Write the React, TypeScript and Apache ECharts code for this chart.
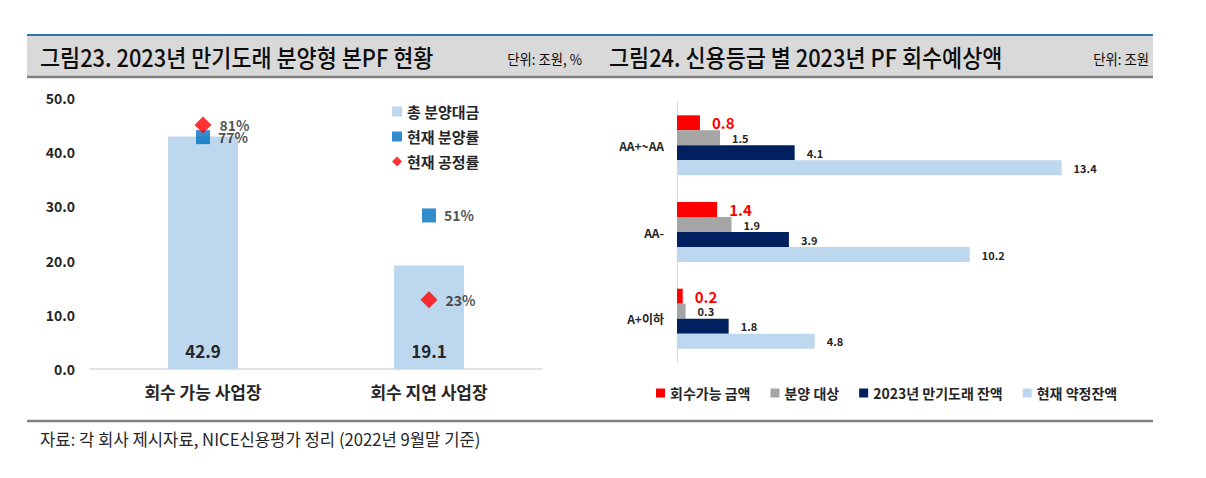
import React, { useEffect, useRef } from 'react';
import * as echarts from 'echarts';

const FONT = "'Noto Sans CJK KR', 'Noto Sans', sans-serif";
const TXT = '#262626';

// Left chart: 2023년 만기도래 분양형 본PF 현황
const leftCategories = ['회수 가능 사업장', '회수 지연 사업장'];
const totalSalesAmount = [42.9, 19.1];
const currentSalesRate = [77, 51];
const currentProgressRate = [81, 23];
const leftAxisMax = 50;
const leftAxisInterval = 10;
const rateAxisMax = 90;
const leftSeriesNames = ['총 분양대금', '현재 분양률', '현재 공정률'];

// Right chart: 신용등급 별 2023년 PF 회수예상액
const gradeCategories = ['AA+~AA', 'AA-', 'A+이하'];
const recoverableAmount = [0.8, 1.4, 0.2];
const saleTarget = [1.5, 1.9, 0.3];
const maturing2023 = [4.1, 3.9, 1.8];
const committedBalance = [13.4, 10.2, 4.8];
const rightAxisMax = 15;
const rightSeriesNames = ['회수가능 금액', '분양 대상', '2023년 만기도래 잔액', '현재 약정잔액'];
const rightColors = ['#FF0000', '#A5A5A5', '#002060', '#BDD7EE'];
const rightValues = [recoverableAmount, saleTarget, maturing2023, committedBalance];

const titleLeft = '그림23. 2023년 만기도래 분양형 본PF 현황';
const unitLeft = '단위: 조원, %';
const titleRight = '그림24. 신용등급 별 2023년 PF 회수예상액';
const unitRight = '단위: 조원';
const sourceText = '자료: 각 회사 제시자료, NICE신용평가 정리 (2022년 9월말 기준)';

function textEl(text: string, x: number, y: number, size: number, align: string, scaleX: number, fill = '#0D0D0D', weight: any = 'normal') {
  return {
    type: 'text',
    x,
    y,
    scaleX,
    style: {
      text,
      fontSize: size,
      fontFamily: FONT,
      fontWeight: weight,
      fill,
      align,
      textAlign: align,
      verticalAlign: 'middle',
      textVerticalAlign: 'middle',
    },
  };
}

export default function App() {
  const ref = useRef<HTMLDivElement>(null);
  useEffect(() => {
    const chart = echarts.init(ref.current!, null, { renderer: 'svg' });
    const option: any = {
      animation: false,
      textStyle: { fontFamily: FONT },
      graphic: [
        { type: 'rect', shape: { x: 27, y: 35, width: 1126, height: 41 }, style: { fill: '#D9D9D9' } },
        { type: 'line', shape: { x1: 27, y1: 35, x2: 1153, y2: 35 }, style: { stroke: '#2A78B4', lineWidth: 2 } },
        { type: 'line', shape: { x1: 27, y1: 77, x2: 1153, y2: 77 }, style: { stroke: '#808080', lineWidth: 2.5 } },
        textEl(titleLeft, 40, 57, 24, 'left', 0.91, '#0D0D0D', 500),
        textEl(unitLeft, 582, 59, 15, 'right', 0.89),
        textEl(titleRight, 609, 57, 24, 'left', 0.91, '#0D0D0D', 500),
        textEl(unitRight, 1149, 59, 15, 'right', 0.89),
        { type: 'line', shape: { x1: 27, y1: 421, x2: 1153, y2: 421 }, style: { stroke: '#808080', lineWidth: 2.5 } },
        textEl(sourceText, 40, 438, 17, 'left', 0.98, TXT),
      ],
      legend: [
        {
          data: [
            { name: leftSeriesNames[0], icon: 'rect' },
            { name: leftSeriesNames[1], icon: 'rect' },
            { name: leftSeriesNames[2], icon: 'diamond' },
          ],
          orient: 'vertical',
          left: 387,
          top: 99,
          itemWidth: 10,
          itemHeight: 10,
          itemGap: 10,
          selectedMode: false,
          textStyle: { fontSize: 15, fontWeight: 'bold', color: TXT, fontFamily: FONT },
        },
        {
          data: rightSeriesNames.map((n) => ({ name: n, icon: 'rect' })),
          orient: 'horizontal',
          left: 651,
          top: 381,
          itemWidth: 9,
          itemHeight: 9,
          itemGap: 20,
          selectedMode: false,
          textStyle: { fontSize: 14, fontWeight: 'bold', color: TXT, fontFamily: FONT },
        },
      ],
      grid: [
        { left: 90, top: 98, width: 452, height: 271 },
        { left: 677, top: 102, width: 430.5, height: 260 },
      ],
      xAxis: [
        {
          type: 'category',
          gridIndex: 0,
          data: leftCategories,
          axisLine: { lineStyle: { color: '#D9D9D9', width: 1.5 } },
          axisTick: { show: false },
          axisLabel: { fontSize: 17, fontWeight: 'bold', color: TXT, margin: 14, fontFamily: FONT },
        },
        { type: 'value', gridIndex: 1, min: 0, max: rightAxisMax, show: false, splitLine: { show: false } },
      ],
      yAxis: [
        {
          type: 'value',
          gridIndex: 0,
          min: 0,
          max: leftAxisMax,
          interval: leftAxisInterval,
          axisLine: { show: false },
          axisTick: { show: false },
          splitLine: { show: false },
          axisLabel: {
            formatter: (v: number) => v.toFixed(1),
            fontSize: 14,
            fontWeight: 'bold',
            color: TXT,
            margin: 15,
            fontFamily: FONT,
          },
        },
        { type: 'value', gridIndex: 0, min: 0, max: rateAxisMax, show: false, splitLine: { show: false } },
        {
          type: 'category',
          gridIndex: 1,
          data: gradeCategories,
          inverse: true,
          axisLine: { show: true, lineStyle: { color: '#D9D9D9', width: 1 } },
          axisTick: { show: false },
          axisLabel: { fontSize: 12, fontWeight: 'bold', color: TXT, margin: 13, fontFamily: FONT },
        },
      ],
      series: [
        {
          name: leftSeriesNames[0],
          type: 'bar',
          xAxisIndex: 0,
          yAxisIndex: 0,
          data: totalSalesAmount,
          barWidth: 70,
          itemStyle: { color: '#BDD7EE' },
          label: {
            show: true,
            position: 'insideBottom',
            distance: 10,
            formatter: (p: any) => Number(p.value).toFixed(1),
            fontSize: 17,
            fontWeight: 'bold',
            color: TXT,
            fontFamily: FONT,
          },
        },
        {
          name: leftSeriesNames[1],
          type: 'scatter',
          xAxisIndex: 0,
          yAxisIndex: 1,
          data: currentSalesRate,
          symbol: 'rect',
          symbolSize: 14,
          itemStyle: { color: '#0070C0' },
          label: {
            show: true,
            position: 'right',
            distance: 8,
            formatter: '{c}%',
            fontSize: 14,
            lineHeight: 11,
            fontWeight: 'bold',
            color: TXT,
            fontFamily: FONT,
          },
        },
        {
          name: leftSeriesNames[2],
          type: 'scatter',
          xAxisIndex: 0,
          yAxisIndex: 1,
          data: currentProgressRate,
          symbol: 'diamond',
          symbolSize: 17,
          itemStyle: { color: '#FF0000' },
          label: {
            show: true,
            position: 'right',
            distance: 8,
            formatter: '{c}%',
            fontSize: 14,
            lineHeight: 11,
            fontWeight: 'bold',
            color: TXT,
            fontFamily: FONT,
          },
        },
        ...rightSeriesNames.map((name, i) => ({
          name,
          type: 'bar',
          xAxisIndex: 1,
          yAxisIndex: 2,
          data: rightValues[i],
          barWidth: 15,
          barGap: '0%',
          itemStyle: { color: rightColors[i] },
          label: {
            show: true,
            position: 'right',
            distance: 12,
            formatter: (p: any) => Number(p.value).toFixed(1),
            fontSize: i === 0 ? 15 : 11,
            lineHeight: i === 0 ? 13 : 10,
            fontWeight: 'bold',
            color: i === 0 ? '#FF0000' : TXT,
            fontFamily: FONT,
          },
        })),
      ],
    };
    chart.setOption(option);
    return () => chart.dispose();
  }, []);
  return (
    <div
      ref={ref}
      style={{ position: 'fixed', left: 0, top: 0, width: 1206, height: 478, background: '#fff' }}
    />
  );
}
